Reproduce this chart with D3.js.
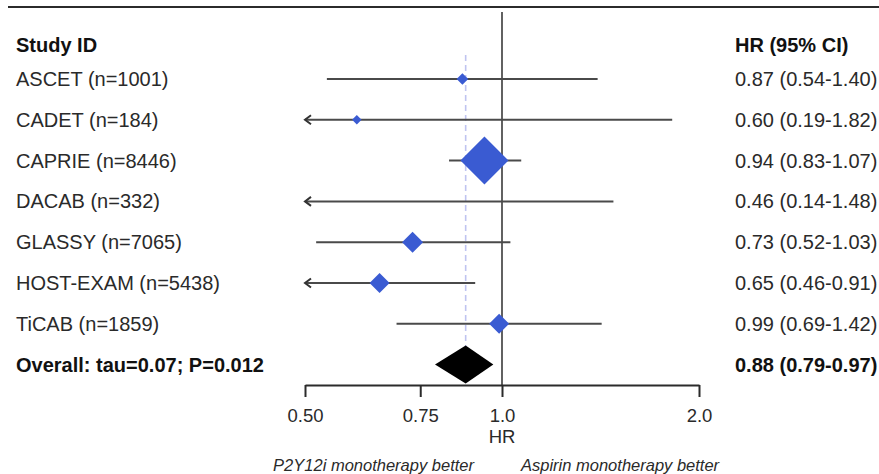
<!DOCTYPE html>
<html>
<head>
<meta charset="utf-8">
<script src="https://cdn.jsdelivr.net/npm/d3@7"></script>
<style>
  body { margin: 0; background: #fff; }
  svg text { font-family: "Liberation Sans", Arial, sans-serif; fill: #2a2a2a; }
</style>
</head>
<body>
<svg width="879" height="474"></svg>
<script>
// Data
var studies = ["ASCET (n=1001)", "CADET (n=184)", "CAPRIE (n=8446)", "DACAB (n=332)",
               "GLASSY (n=7065)", "HOST-EXAM (n=5438)", "TiCAB (n=1859)"];
var hr    = [0.87, 0.60, 0.94, 0.46, 0.73, 0.65, 0.99];
var lower = [0.54, 0.19, 0.83, 0.14, 0.52, 0.46, 0.69];
var upper = [1.40, 1.82, 1.07, 1.48, 1.03, 0.91, 1.42];
var weights = [3.6, 2.4, 61.0, 1.1, 11.7, 10.6, 10.6]; // % weight
var hrLabels = ["0.87 (0.54-1.40)", "0.60 (0.19-1.82)", "0.94 (0.83-1.07)", "0.46 (0.14-1.48)",
                "0.73 (0.52-1.03)", "0.65 (0.46-0.91)", "0.99 (0.69-1.42)"];
var overallLabel = "Overall: tau=0.07; P=0.012";
var overall = {hr: 0.88, lower: 0.79, upper: 0.97, text: "0.88 (0.79-0.97)"};
var tickValues = [0.5, 0.75, 1.0, 2.0];
var tickLabels = ["0.50", "0.75", "1.0", "2.0"];

var svg = d3.select("svg");
var axisY = 385;

var x = d3.scaleLog().domain([0.5, 2]).range([305, 699]);
var y = d3.scaleLinear().domain([0, 7]).range([79, 364.6]); // index 7 = overall row
var size = d3.scaleSqrt().domain([0, 61]).range([0, 24]);

// top rule
svg.append("line")
    .attr("x1", 8).attr("x2", 879).attr("y1", 7).attr("y2", 7)
    .attr("stroke", "#2b2b2b").attr("stroke-width", 2.2);

// headers
svg.append("text").attr("x", 16).attr("y", 45).attr("dy", "0.35em")
    .style("font-size", "20px").style("font-weight", "bold").style("fill", "#111")
    .text("Study ID");
svg.append("text").attr("x", 735).attr("y", 45).attr("dy", "0.35em")
    .style("font-size", "20px").style("font-weight", "bold").style("fill", "#111")
    .text("HR (95% CI)");

// dashed line at the pooled estimate
svg.append("line")
    .attr("x1", x(overall.hr)).attr("x2", x(overall.hr))
    .attr("y1", 55).attr("y2", axisY)
    .attr("stroke", "#bfc4f0").attr("stroke-width", 1.6)
    .attr("stroke-dasharray", "6,4");

// line of no effect
svg.append("line")
    .attr("x1", x(1)).attr("x2", x(1)).attr("y1", 12).attr("y2", axisY)
    .attr("stroke", "#3a3a3a").attr("stroke-width", 1.6);

var rows = svg.append("g");

studies.forEach(function(s, i) {
    var yy = y(i);
    var lo = Math.max(lower[i], 0.5), hi = Math.min(upper[i], 2);
    rows.append("line")
        .attr("x1", x(lo)).attr("x2", x(hi)).attr("y1", yy).attr("y2", yy)
        .attr("stroke", "#4a4a4a").attr("stroke-width", 2);
    if (lower[i] < 0.5) { // arrow for clipped lower bound
        rows.append("path")
            .attr("d", "M" + (x(0.5) + 6) + "," + (yy - 4.5) + "L" + x(0.5) + "," + yy + "L" + (x(0.5) + 6) + "," + (yy + 4.5))
            .attr("fill", "none").attr("stroke", "#333").attr("stroke-width", 2);
    }
    if (hr[i] >= 0.5) {
        var r = size(weights[i]), cx = x(hr[i]);
        rows.append("path")
            .attr("d", "M" + (cx - r) + "," + yy + "L" + cx + "," + (yy - r) + "L" + (cx + r) + "," + yy + "L" + cx + "," + (yy + r) + "Z")
            .attr("fill", "#3a5bd2");
    }
    rows.append("text").attr("x", 16).attr("y", yy).attr("dy", "0.35em")
        .style("font-size", "20px").text(s);
    rows.append("text").attr("x", 735).attr("y", yy).attr("dy", "0.35em")
        .style("font-size", "20px").text(hrLabels[i]);
});

// overall diamond
var oy = y(7);
svg.append("path")
    .attr("d", "M" + x(overall.lower) + "," + oy + "L" + x(overall.hr) + "," + (oy - 19) +
               "L" + x(overall.upper) + "," + oy + "L" + x(overall.hr) + "," + (oy + 19) + "Z")
    .attr("fill", "#000");
svg.append("text").attr("x", 16).attr("y", oy).attr("dy", "0.35em")
    .style("font-size", "20px").style("font-weight", "bold").style("fill", "#111")
    .text(overallLabel);
svg.append("text").attr("x", 735).attr("y", oy).attr("dy", "0.35em")
    .style("font-size", "20px").style("font-weight", "bold").style("fill", "#111")
    .text(overall.text);

// x axis
var axis = svg.append("g")
    .attr("transform", "translate(0," + axisY + ")")
    .call(d3.axisBottom(x).tickValues(tickValues)
        .tickFormat(function(d, i) { return tickLabels[i]; })
        .tickSize(12).tickSizeOuter(0).tickPadding(12));
axis.select(".domain").attr("stroke", "#2b2b2b").attr("stroke-width", 2);
axis.selectAll(".tick line").attr("stroke", "#2b2b2b").attr("stroke-width", 2);
axis.selectAll(".tick text")
    .style("font-size", "18.5px").style("font-family", "'Liberation Sans', Arial, sans-serif")
    .attr("fill", "#2a2a2a");

svg.append("text").attr("x", x(1)).attr("y", 437).attr("dy", "0.35em")
    .attr("text-anchor", "middle").style("font-size", "18.5px").text("HR");

svg.append("text").attr("x", 474).attr("y", 465).attr("dy", "0.35em")
    .attr("text-anchor", "end").style("font-size", "16.5px").style("font-style", "italic")
    .text("P2Y12i monotherapy better");
svg.append("text").attr("x", 521).attr("y", 465).attr("dy", "0.35em")
    .style("font-size", "16.5px").style("font-style", "italic")
    .text("Aspirin monotherapy better");
</script>
</body>
</html>
